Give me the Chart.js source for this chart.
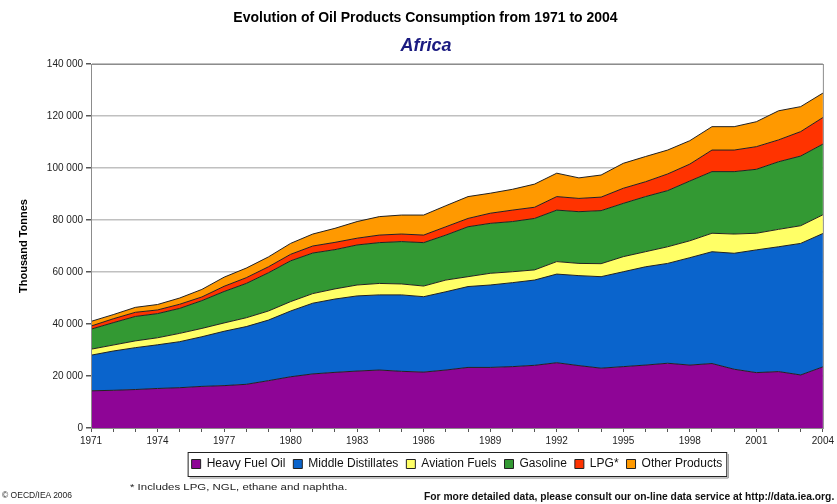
<!DOCTYPE html>
<html>
<head>
<meta charset="utf-8">
<script src="https://cdn.jsdelivr.net/npm/chart.js@4.4.0/dist/chart.umd.min.js"></script>
<style>
    body { margin: 0; background: #fff; font-family: "Liberation Sans", Arial, sans-serif; }
    #wrap { position: relative; width: 837px; height: 504px; }
    #oilChart { position: absolute; left: 0; top: 0; }
    .txt { position: absolute; white-space: nowrap; color: #000; }
    #title { left: 0; width: 851px; top: 9px; text-align: center; font-size: 14px; font-weight: bold; }
    #subtitle { left: 0; width: 852px; top: 35px; text-align: center; font-size: 18px; font-weight: bold; font-style: italic; color: #1a1a80; }
    #note { left: 130px; top: 482px; font-size: 9px; color: #222; transform: scaleX(1.27); transform-origin: left center; }
    #copy { left: 2px; top: 490px; font-size: 8.5px; color: #222; }
    #more { left: 424px; top: 491px; font-size: 10.3px; font-weight: bold; color: #111; }
</style>
</head>
<body>
<div id="wrap">
    <canvas id="oilChart" width="837" height="504"></canvas>
    <div id="title" class="txt">Evolution of Oil Products Consumption from 1971 to 2004</div>
    <div id="subtitle" class="txt">Africa</div>
    <div id="note" class="txt">* Includes LPG, NGL, ethane and naphtha.</div>
    <div id="copy" class="txt">© OECD/IEA 2006</div>
    <div id="more" class="txt">For more detailed data, please consult our on-line data service at http://data.iea.org.</div>
</div>
<script>
// Years on the x axis
const years = [1971, 1972, 1973, 1974, 1975, 1976, 1977, 1978, 1979, 1980,
    1981, 1982, 1983, 1984, 1985, 1986, 1987, 1988, 1989, 1990,
    1991, 1992, 1993, 1994, 1995, 1996, 1997, 1998, 1999, 2000,
    2001, 2002, 2003, 2004];

// Thousand tonnes
const heavyFuelOil = [14300, 14500, 14800, 15200, 15500, 16000, 16300, 16800, 18200, 19700,
    20800, 21400, 21900, 22300, 21800, 21500, 22300, 23300, 23300, 23600,
    24100, 25100, 24000, 23000, 23600, 24200, 24900, 24200, 24800, 22600,
    21300, 21700, 20400, 23500];
const middleDistillates = [13700, 15100, 16100, 16800, 17700, 19100, 20900, 22200, 23300, 25300,
    27200, 28200, 28900, 28900, 29400, 29000, 30100, 31100, 31700, 32300,
    32800, 34100, 34600, 35200, 36500, 37800, 38400, 41300, 43000, 44600,
    47200, 48000, 50600, 51300];
const aviationFuels = [2300, 2300, 2600, 2700, 3200, 3200, 3200, 3400, 3500, 3600,
    3700, 3900, 4200, 4400, 4200, 4100, 4500, 3800, 4500, 4200,
    3900, 4800, 4700, 5000, 5800, 5800, 6400, 6500, 7100, 7400,
    6400, 6700, 6800, 7200];
const gasoline = [7700, 8600, 9400, 9300, 9600, 10700, 12100, 13200, 14700, 15700,
    15600, 15100, 15400, 15700, 16300, 16700, 17300, 19200, 19200, 19300,
    19800, 19800, 19900, 20400, 20500, 21200, 21600, 23000, 23700, 24000,
    24600, 26000, 26800, 27200];
const lpg = [1200, 1500, 1600, 1400, 1600, 1400, 2000, 2200, 2300, 2500,
    2700, 2800, 2600, 2900, 2900, 2900, 3200, 3200, 3900, 4400,
    4300, 5200, 5100, 5200, 5800, 5700, 6400, 6500, 8300, 8300,
    8700, 8400, 9400, 10200];
const otherProducts = [1800, 1600, 1900, 2100, 2400, 2900, 3500, 3700, 3800, 4200,
    4600, 5400, 6400, 7100, 7300, 7700, 8100, 8400, 7700, 8000,
    8900, 9000, 7900, 8500, 9600, 9700, 9200, 9000, 9000, 9000,
    9600, 11200, 9600, 9400];

const seriesNames = ['Heavy Fuel Oil', 'Middle Distillates', 'Aviation Fuels', 'Gasoline', 'LPG*', 'Other Products'];
const seriesData = [heavyFuelOil, middleDistillates, aviationFuels, gasoline, lpg, otherProducts];
const seriesColors = ['#8e0596', '#0a64cc', '#ffff66', '#339933', '#ff3300', '#ff9900'];

// box around the legend + frame around the plot
const framePlugin = {
    id: 'frame',
    afterDraw(chart) {
        const ctx = chart.ctx;
        const a = chart.chartArea;
        ctx.save();
        ctx.strokeStyle = '#8c8c8c';
        ctx.lineWidth = 1;
        ctx.strokeRect(a.left + 0.5, a.top + 0.5, a.right - a.left, a.bottom - a.top);

        const boxes = chart.legend.legendHitBoxes;
        if (boxes && boxes.length) {
            const first = boxes[0];
            const last = boxes[boxes.length - 1];
            const x0 = first.left - 4;
            const x1 = last.left + last.width + 4;
            const y0 = first.top - 6;
            const y1 = first.top + first.height + 6;
            ctx.strokeStyle = '#222';
            ctx.strokeRect(x0 + 0.5, y0 + 0.5, x1 - x0, y1 - y0);
            // little shadow on the right / bottom
            ctx.strokeStyle = '#888';
            ctx.beginPath();
            ctx.moveTo(x1 + 2, y0 + 2);
            ctx.lineTo(x1 + 2, y1 + 2);
            ctx.lineTo(x0 + 2, y1 + 2);
            ctx.stroke();
        }
        ctx.restore();
    }
};

const ctx = document.getElementById('oilChart').getContext('2d');
new Chart(ctx, {
    type: 'line',
    data: {
        labels: years,
        datasets: seriesNames.map((name, i) => ({
            label: name,
            data: seriesData[i],
            backgroundColor: seriesColors[i],
            borderColor: '#222',
            borderWidth: 1,
            fill: i === 0 ? 'origin' : '-1',
            pointRadius: 0,
            tension: 0
        }))
    },
    options: {
        responsive: false,
        animation: false,
        layout: {
            padding: { left: 17, right: 9, top: 64, bottom: 24 }
        },
        plugins: {
            legend: {
                position: 'bottom',
                fullSize: false,
                labels: {
                    boxWidth: 9,
                    boxHeight: 9,
                    padding: 8,
                    color: '#111',
                    font: { family: 'Liberation Sans', size: 12 }
                }
            },
            tooltip: { enabled: false },
            filler: { propagate: false }
        },
        scales: {
            x: {
                grid: {
                    drawOnChartArea: false,
                    drawTicks: true,
                    tickLength: 4,
                    color: '#555'
                },
                border: { color: '#555' },
                ticks: {
                    autoSkip: false,
                    maxRotation: 0,
                    padding: 3,
                    color: '#222',
                    font: { family: 'Liberation Sans', size: 10 },
                    callback: function(value, index) {
                        return index % 3 === 0 ? years[index] : '';
                    }
                }
            },
            y: {
                stacked: true,
                min: 0,
                max: 140000,
                afterFit: function(scale) { scale.width = 74; },
                title: {
                    display: true,
                    text: 'Thousand Tonnes',
                    color: '#000',
                    font: { family: 'Liberation Sans', size: 11, weight: 'bold' },
                    padding: 0
                },
                grid: {
                    color: '#c0c0c0',
                    lineWidth: 1.5,
                    tickLength: 5,
                    tickColor: '#555'
                },
                border: { color: '#555' },
                ticks: {
                    stepSize: 20000,
                    padding: 3,
                    color: '#222',
                    font: { family: 'Liberation Sans', size: 10 },
                    callback: function(value) {
                        return value.toString().replace(/\B(?=(\d{3})+(?!\d))/g, ' ');
                    }
                }
            }
        }
    },
    plugins: [framePlugin]
});
</script>
</body>
</html>
